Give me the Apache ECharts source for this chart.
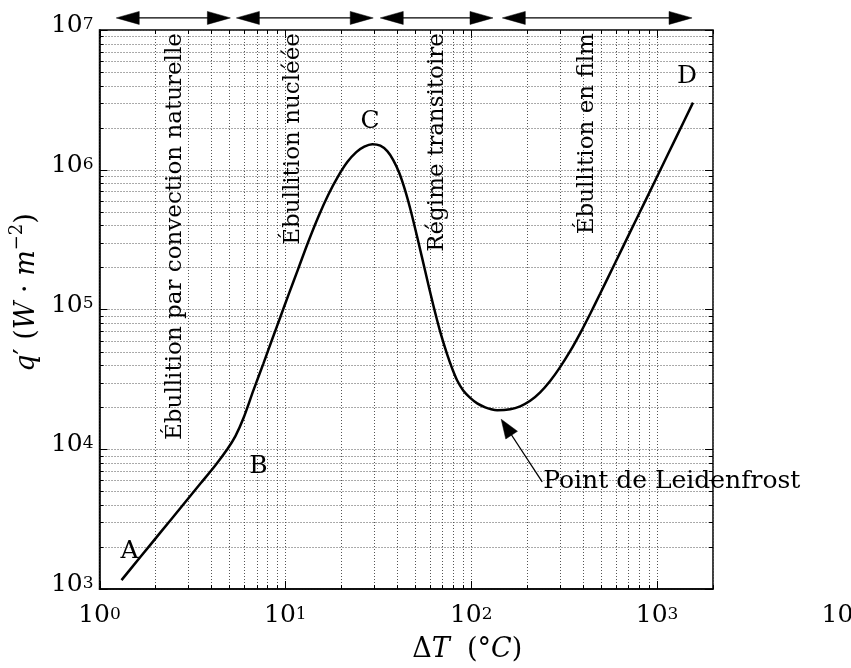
<!DOCTYPE html>
<html>
<head>
<meta charset="utf-8">
<script src="https://cdn.jsdelivr.net/npm/echarts@6/dist/echarts.min.js"></script>
<style>
  html, body { margin: 0; padding: 0; background: #fff; }
  #chart { width: 851px; height: 668px; }
</style>
</head>
<body>
<div id="chart"></div>
<script>
// Courbe d'ébullition : densité de flux q' en fonction de la surchauffe ΔT
const deltaT = [
  1.313, 1.662, 2.128, 2.726, 3.491, 4.205, 4.878, 5.385, 5.946, 6.729,
  7.614, 8.513, 9.40, 10.38, 11.75, 13.30, 15.05, 17.02, 19.28, 21.54,
  24.08, 26.59, 29.36, 32.43, 35.35, 38.07, 41.02, 44.18, 47.59, 51.89,
  56.57, 62.47, 68.13, 74.30, 79.03, 84.07, 90.57, 98.77, 107.7, 118.9,
  128.1, 138.0, 162.1, 183.4, 207.6, 235.0, 265.9, 300.9, 340.6, 385.5,
  436.3, 493.7, 594.6, 715.9, 862.2, 1038, 1265, 1561];
const heatFlux = [
  1158, 1699, 2541, 3800, 5682, 7691, 10040, 12420, 16670, 26360,
  41010, 61720, 88440, 126800, 197100, 306700, 461600, 661800, 902800, 1135000,
  1337000, 1463000, 1524000, 1487000, 1359000, 1173000, 948000, 706300, 492700, 306700,
  187700, 107600, 69210, 47500, 37780, 31050, 26360, 23320, 21310, 19960,
  19320, 19010, 19320, 20290, 22200, 25520, 30800, 38720, 50300, 67520,
  92900, 129500, 215100, 357700, 593800, 987900, 1698000, 3020000];

// Décades étiquetées sur chaque axe
const xTickExponents = [0, 1, 2, 3, 4];
const yTickExponents = [3, 4, 5, 6, 7];

// Domaines d'ébullition (bornes en ΔT des flèches du haut)
const regimeNames = ['Ébullition par convection naturelle', 'Ébullition nucléée',
  'Régime transitoire', 'Ébullition en film'];
const regimeBounds = [[1.23, 5.06], [5.45, 29.7], [32.4, 131], [147, 1543]];

// Points caractéristiques
const pointNames = ['A', 'B', 'C', 'D'];
const leidenfrostName = 'Point de Leidenfrost';

const X_MIN = 1, X_MAX = 2000, Y_MIN = 1e3, Y_MAX = 1e7;
const FONT = 'DejaVu Serif';
const X_LABEL_MARGIN = 17;

// Ancrages des annotations, en coordonnées des données
const annot = {
  arrowLevel: 1.22e7,
  regimeX: [2.56, 11.0, 65.6, 421],
  regimeTop: 9.5e6,
  pointPos: [[1.45, 1860], [7.16, 7480], [28.6, 2.22e6], [1449, 4.63e6]],
  leidenTip: [145, 16400],
  leidenTail: [241, 5850]
};

// Puissances de 10 : mantisse et exposant surélevé
const tickRich = {
  b: { fontFamily: FONT, fontSize: 25, lineHeight: 22, verticalAlign: 'bottom', color: '#000', fill: '#000' },
  s: { fontFamily: FONT, fontSize: 17, lineHeight: 14, verticalAlign: 'top', color: '#000', fill: '#000' }
};
const powLabel = e => '{b|10}{s|' + e + '}';
function exponentOf(v) {
  const e = Math.log10(v), r = Math.round(e);
  return Math.abs(e - r) < 1e-6 ? r : null;
}

const titleRich = {
  n: { fontFamily: FONT, fontSize: 27, lineHeight: 32, verticalAlign: 'bottom', color: '#000' },
  i: { fontFamily: FONT, fontSize: 27, lineHeight: 32, verticalAlign: 'bottom', fontStyle: 'italic', color: '#000' },
  s: { fontFamily: FONT, fontSize: 18, lineHeight: 18, verticalAlign: 'top', color: '#000' }
};

function arrowHead(tip, from, len, half) {
  const dx = tip[0] - from[0], dy = tip[1] - from[1];
  const d = Math.hypot(dx, dy) || 1;
  const ux = dx / d, uy = dy / d;
  const bx = tip[0] - ux * len, by = tip[1] - uy * len;
  return {
    type: 'polygon',
    shape: { points: [tip, [bx - uy * half, by + ux * half], [bx + uy * half, by - ux * half]] },
    style: { fill: '#000', stroke: '#000', lineWidth: 0.5 }
  };
}

const chart = echarts.init(document.getElementById('chart'), null, { renderer: 'canvas' });

chart.setOption({
  animation: false,
  backgroundColor: '#fff',
  grid: { left: 99, right: 138, top: 30, bottom: 75, containLabel: false, show: true,
          borderColor: '#000', borderWidth: 1.5, backgroundColor: 'transparent' },
  xAxis: {
    type: 'log', logBase: 10, min: X_MIN, max: X_MAX,
    axisLine: { show: true, onZero: false, lineStyle: { color: '#000', width: 1.5 } },
    axisTick: { show: false },
    splitLine: { show: true, lineStyle: { color: '#555', width: 1, type: [1, 2] } },
    axisLabel: {
      margin: X_LABEL_MARGIN, fontFamily: FONT, fontSize: 25, color: '#000',
      formatter: v => { const e = exponentOf(v); return e !== null && xTickExponents.includes(e) ? powLabel(e) : ''; },
      rich: tickRich
    },
    name: '{n|Δ}{i|T}{n|  (°}{i|C}{n|)}',
    nameLocation: 'middle', nameGap: 42,
    nameTextStyle: { rich: titleRich, padding: [0, 0, 0, 122] }
  },
  yAxis: {
    type: 'log', logBase: 10, min: Y_MIN, max: Y_MAX,
    axisLine: { show: true, onZero: false, lineStyle: { color: '#000', width: 1.5 } },
    axisTick: { show: false },
    splitLine: { show: true, lineStyle: { color: '#555', width: 1, type: [1, 2] } },
    axisLabel: {
      margin: 6, verticalAlign: 'middle', padding: [0, 0, 6, 0],
      fontFamily: FONT, fontSize: 25, color: '#000',
      formatter: v => { const e = exponentOf(v); return e !== null && yTickExponents.includes(e) ? powLabel(e) : ''; },
      rich: tickRich
    },
    name: '{i|q}{n|′ (}{i|W}{n| · }{i|m}{s|−2}{n|)}',
    nameLocation: 'middle', nameGap: 50, nameRotate: 90,
    nameTextStyle: { rich: titleRich, padding: [0, 0, 0, 34] }
  },
  series: [
    {
      // Quadrillage secondaire et graduations sur les quatre côtés
      type: 'custom', z: 1, silent: true,
      data: [[X_MIN, Y_MIN]],
      renderItem(params, api) {
        const cs = params.coordSys;
        const L = cs.x, R = cs.x + cs.width, T = cs.y, B = cs.y + cs.height;
        const kids = [];
        const dot = { stroke: '#555', lineWidth: 1, lineDash: [1, 2] };
        const tk = { stroke: '#000', lineWidth: 1 };
        for (let e = 0; e <= 3; e++) {
          for (let m = 1; m <= 9; m++) {
            const v = m * Math.pow(10, e);
            if (v > X_MAX) break;
            const px = Math.round(api.coord([v, Y_MIN])[0]) + 0.5;
            const len = m === 1 ? 8 : 4;
            if (m !== 1) kids.push({ type: 'line', shape: { x1: px, y1: T, x2: px, y2: B }, style: dot });
            kids.push({ type: 'line', shape: { x1: px, y1: B, x2: px, y2: B - len }, style: tk });
            kids.push({ type: 'line', shape: { x1: px, y1: T, x2: px, y2: T + len }, style: tk });
          }
        }
        for (let e = 3; e <= 7; e++) {
          for (let m = 1; m <= 9; m++) {
            const v = m * Math.pow(10, e);
            if (v > Y_MAX) break;
            const py = Math.round(api.coord([X_MIN, v])[1]) + 0.5;
            const len = m === 1 ? 8 : 4;
            if (m !== 1) kids.push({ type: 'line', shape: { x1: L, y1: py, x2: R, y2: py }, style: dot });
            kids.push({ type: 'line', shape: { x1: L, y1: py, x2: L + len, y2: py }, style: tk });
            kids.push({ type: 'line', shape: { x1: R, y1: py, x2: R - len, y2: py }, style: tk });
          }
        }
        return { type: 'group', children: kids };
      }
    },
    {
      type: 'line',
      z: 5,
      data: deltaT.map((t, i) => [t, heatFlux[i]]),
      showSymbol: false,
      smooth: 0.3,
      lineStyle: { color: '#000', width: 2.5 },
      silent: true
    },
    {
      // Flèches des domaines, repères et annotations
      type: 'custom', z: 10, silent: true, clip: false,
      data: [[X_MIN, Y_MIN]],
      renderItem(params, api) {
        const cs = params.coordSys;
        const B = cs.y + cs.height;
        const kids = [];
        regimeBounds.forEach(([a, b]) => {
          const p1 = api.coord([a, annot.arrowLevel]), p2 = api.coord([b, annot.arrowLevel]);
          kids.push({ type: 'line', shape: { x1: p1[0] + 10, y1: p1[1], x2: p2[0] - 10, y2: p2[1] },
                      style: { stroke: '#000', lineWidth: 1.3 } });
          kids.push(arrowHead(p1, p2, 23, 6.5));
          kids.push(arrowHead(p2, p1, 23, 6.5));
        });
        regimeNames.forEach((name, i) => {
          const p = api.coord([annot.regimeX[i], annot.regimeTop]);
          kids.push({ type: 'text', x: p[0], y: p[1], rotation: Math.PI / 2,
            style: { text: name, fontFamily: FONT, fontSize: 23, fill: '#000', align: 'right', verticalAlign: 'middle' } });
        });
        pointNames.forEach((name, i) => {
          const p = api.coord(annot.pointPos[i]);
          kids.push({ type: 'text', x: p[0], y: p[1],
            style: { text: name, fontFamily: FONT, fontSize: 25, fill: '#000', align: 'center', verticalAlign: 'middle' } });
        });
        const tip = api.coord(annot.leidenTip), tail = api.coord(annot.leidenTail);
        const dx = tip[0] - tail[0], dy = tip[1] - tail[1], d = Math.hypot(dx, dy);
        kids.push({ type: 'line', shape: { x1: tail[0], y1: tail[1], x2: tip[0] - dx / d * 12, y2: tip[1] - dy / d * 12 },
                    style: { stroke: '#000', lineWidth: 1.3 } });
        kids.push(arrowHead(tip, tail, 19, 7));
        kids.push({ type: 'text', x: tail[0] + 1, y: tail[1],
          style: { text: leidenfrostName, fontFamily: FONT, fontSize: 25, fill: '#000', align: 'left', verticalAlign: 'middle' } });
        // Étiquette de la décade 10^4, au-delà du cadre
        const last = xTickExponents[xTickExponents.length - 1];
        const px = api.coord([Math.pow(10, last), Y_MIN])[0];
        kids.push({ type: 'text', x: px, y: B + X_LABEL_MARGIN,
          style: { text: powLabel(last), rich: tickRich, align: 'center', verticalAlign: 'top', fill: '#000' } });
        return { type: 'group', children: kids };
      }
    }
  ]
});
</script>
</body>
</html>
